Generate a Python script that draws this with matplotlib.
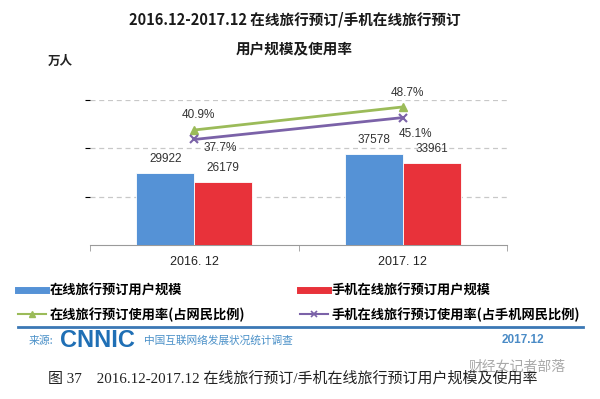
import matplotlib
matplotlib.use("Agg")
import matplotlib.pyplot as plt
from matplotlib.lines import Line2D
import numpy as np

plt.rcParams['font.family'] = ['Noto Sans CJK SC', 'DejaVu Sans']

# data
periods = ['2016. 12', '2017. 12']
online_users = [29922, 37578]      # 在线旅行预订用户规模 (万人)
mobile_users = [26179, 33961]      # 手机在线旅行预订用户规模 (万人)
online_rate = [40.9, 48.7]         # 在线旅行预订使用率 (%)
mobile_rate = [37.7, 45.1]         # 手机在线旅行预订使用率 (%)

BLUE = '#5592d6'
RED = '#e8323a'
GREEN = '#9bbb59'
PURPLE = '#7b62a8'
NUM_FONT = ['Liberation Sans', 'DejaVu Sans']

fig = plt.figure(figsize=(6, 3.99), dpi=100)
fig.patch.set_facecolor('white')

ax = fig.add_axes([0.15, 0.386, 0.695, 0.363])
ax.patch.set_alpha(0)
x = np.arange(len(periods))
w = 0.278

b1 = ax.bar(x - w / 2, online_users, w, color=BLUE, edgecolor='white', linewidth=0.6, zorder=3)
b2 = ax.bar(x + w / 2, mobile_users, w, color=RED, edgecolor='white', linewidth=0.6, zorder=3)

for bars, vals in ((b1, online_users), (b2, mobile_users)):
    for r, v in zip(bars, vals):
        ax.annotate(str(v), (r.get_x() + r.get_width() / 2, v), xytext=(0, 8),
                    textcoords='offset pixels', ha='center', va='bottom',
                    fontsize=8.5, color='#333333', family=NUM_FONT)

ax.set_xlim(-0.5, 1.5)
ax.set_ylim(0, 60000)
ax.set_yticks([20000, 40000, 60000])
ax.yaxis.grid(True, linestyle=(0, (4, 3)), color='#c8c8c8', linewidth=0.9)
ax.set_axisbelow(True)
ax.tick_params(axis='y', left=False, labelleft=False)
for s in ('top', 'right', 'left'):
    ax.spines[s].set_visible(False)
ax.spines['bottom'].set_color('#9a9a9a')
ax.set_xticks(x)
ax.set_xticklabels(periods, fontsize=9, family=NUM_FONT, color='#222222')
ax.tick_params(axis='x', which='major', length=0, pad=8)
ax.set_xticks([-0.5, 0.5, 1.5], minor=True)
ax.tick_params(axis='x', which='minor', length=4, color='#9a9a9a')

ax2 = ax.twinx()
ax2.set_ylim(2, 51)
ax2.axis('off')
ax2.plot(x, online_rate, color=GREEN, lw=2, marker='^', ms=6, zorder=4)
ax2.plot(x, mobile_rate, color=PURPLE, lw=2, marker='x', ms=6, mew=1.5, zorder=4)

rate_offsets = [(4, 15), (26, -9), (5, 14), (13, -16)]
pts = [(0, online_rate[0]), (0, mobile_rate[0]), (1, online_rate[1]), (1, mobile_rate[1])]
for (px, pv), off in zip(pts, rate_offsets):
    ax2.annotate(f'{pv}%', (px, pv), xytext=off, textcoords='offset pixels',
                 ha='center', va='center', fontsize=8.5, color='#333333', family=NUM_FONT)

# titles
fig.text(0.492, 0.95, '2016.12-2017.12 在线旅行预订/手机在线旅行预订',
         ha='center', va='center', fontsize=10.5, fontweight='bold', color='#1a1a1a')
fig.text(0.49, 0.88, '用户规模及使用率', ha='center', va='center',
         fontsize=10.5, fontweight='bold', color='#1a1a1a')
fig.text(0.1, 0.845, '万人', ha='center', va='center', fontsize=9, fontweight='bold', color='#222222')

# legends
h_blue = Line2D([], [], color=BLUE, lw=5)
h_red = Line2D([], [], color=RED, lw=5)
h_green = Line2D([], [], color=GREEN, lw=1.5, marker='^', ms=4)
h_purple = Line2D([], [], color=PURPLE, lw=1.5, marker='x', ms=5, mew=1.2)
leg_kw = dict(frameon=False, handlelength=2.1, handletextpad=0.3,
              labelspacing=0.75, borderaxespad=0, borderpad=0,
              prop={'weight': 'bold', 'size': 9.5})
fig.legend([h_blue, h_green], ['在线旅行预订用户规模', '在线旅行预订使用率(占网民比例)'],
           loc='upper left', bbox_to_anchor=(0.03, 0.29), **leg_kw)
fig.legend([h_red, h_purple], ['手机在线旅行预订用户规模', '手机在线旅行预订使用率(占手机网民比例)'],
           loc='upper left', bbox_to_anchor=(0.5, 0.29), **leg_kw)

# separator + source
fig.add_artist(Line2D([0.03, 0.972], [0.18, 0.18], color='#3b78b5', lw=2))
fig.text(0.048, 0.147, '来源:', ha='left', va='center', fontsize=7.8, color='#4a90c8')
fig.text(0.1, 0.147, 'CNNIC', ha='left', va='center', fontsize=17, fontweight='bold',
         color='#1f6fb5', family=NUM_FONT)
fig.text(0.24, 0.147, '中国互联网络发展状况统计调查', ha='left', va='center',
         fontsize=7.7, color='#4a90c8')
fig.text(0.872, 0.147, '2017.12', ha='center', va='center', fontsize=8.5,
         fontweight='bold', color='#4a8bc6', family=NUM_FONT)

# caption
fig.text(0.08, 0.053, '图 37    2016.12-2017.12 在线旅行预订/手机在线旅行预订用户规模及使用率',
         ha='left', va='center', fontsize=10.8, color='#222222',
         family=['Liberation Serif', 'Noto Sans CJK SC'])
fig.text(0.862, 0.08, '财经女记者部落', ha='center', va='center', fontsize=10,
         color='#9a9a9a', alpha=0.85)

fig.savefig('out.png', dpi=100, facecolor='white')
